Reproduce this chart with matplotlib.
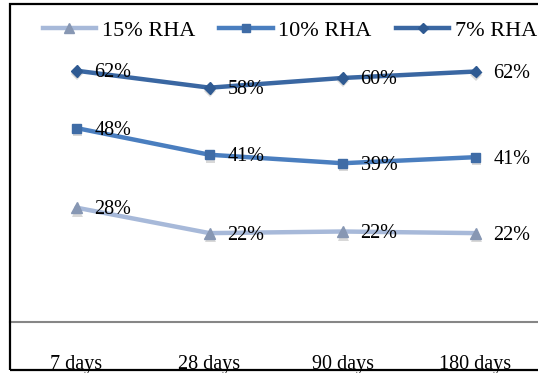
import matplotlib
matplotlib.use("Agg")
import matplotlib.pyplot as plt
import matplotlib.patheffects as pe
from matplotlib.patches import Rectangle

plt.rcParams['font.family'] = ['Liberation Serif', 'DejaVu Serif']

# compressive strength ratio per curing age
ages = ['7 days', '28 days', '90 days', '180 days']
rha_15 = [28.3, 22.0, 22.4, 22.0]
rha_10 = [48.0, 41.4, 39.3, 40.8]
rha_7 = [62.2, 58.0, 60.4, 62.0]

W, H = 538, 373
fig = plt.figure(figsize=(W / 100, H / 100), dpi=100)

# axes placed in pixel terms: zero line at y=322, categories 133 px apart
x0, x1 = 10, 542
y_bot, y_top = 322, 8
ax = fig.add_axes([x0 / W, (H - y_bot) / H, (x1 - x0) / W, (y_bot - y_top) / H])
ax.set_xlim(-0.5, 3.5)
ax.set_ylim(0, (y_bot - y_top) / 4.04)

series = [
    ('15% RHA', rha_15, '#A7B9D9', '#8797B3', '^', 8),
    ('10% RHA', rha_10, '#4A7EBF', '#3F6CA6', 's', 6.5),
    ('7% RHA', rha_7, '#3A67A2', '#2F5A92', 'D', 6),
]

xs = list(range(len(ages)))
# soft drop shadow under the markers only
shadow = [pe.SimplePatchShadow(offset=(0.5, -2.5), shadow_rgbFace='#808080', alpha=0.3), pe.Normal()]
for label, vals, lc, mc, mk, ms in series:
    ax.plot(xs, vals, color=lc, lw=3.2, solid_capstyle='round', zorder=3)
    ax.plot(xs, vals, ls='none', marker=mk, markersize=ms, markerfacecolor=mc,
            markeredgecolor=mc, path_effects=shadow, zorder=3.5)
    # legend proxy: line with marker
    ax.plot([], [], color=lc, lw=3.2, marker=mk, markersize=ms * 0.85,
            markerfacecolor=mc, markeredgecolor=mc, label=label)
    for xi, v in zip(xs, vals):
        ax.annotate(f'{v:.0f}%', (xi, v), xytext=(18, -2), textcoords='offset pixels',
                    ha='left', va='center', fontsize=14.5, color='black', zorder=4)

for side in ['left', 'right', 'top']:
    ax.spines[side].set_visible(False)
ax.spines['bottom'].set_color('#868686')
ax.spines['bottom'].set_linewidth(1.5)
ax.set_yticks([])
ax.set_xticks(xs)
ax.set_xticklabels(ages, fontsize=14.5)
ax.tick_params(axis='x', length=0, pad=23.5)
ax.patch.set_visible(False)

fig.legend(loc='center', bbox_to_anchor=(290 / W, 1 - 31 / H), ncol=3,
           frameon=False, fontsize=16, handlelength=2.4, handletextpad=0.25,
           columnspacing=1.1, borderaxespad=0)

# outer frame of the chart area
fig.patches.append(Rectangle((10 / W, 3 / H), 1.0, (370 - 4) / H,
                             transform=fig.transFigure, fill=False,
                             edgecolor='black', linewidth=1.6))

fig.savefig('out.png', dpi=100)
